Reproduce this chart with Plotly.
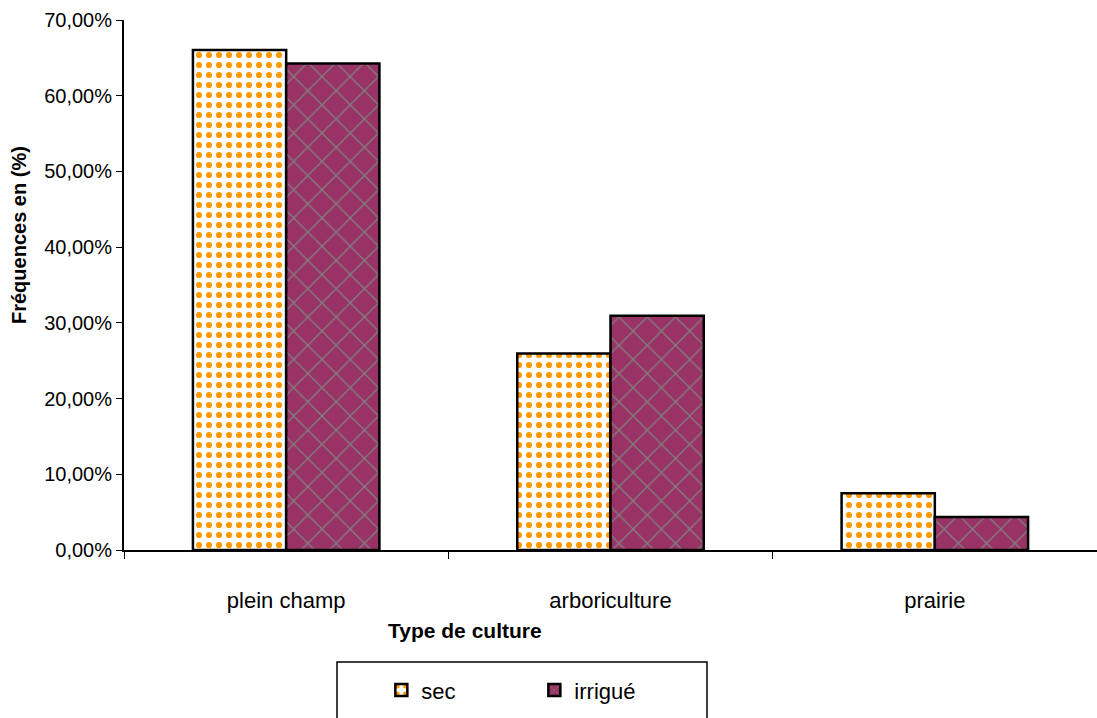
import plotly.graph_objects as go

categories = ["plein champ", "arboriculture", "prairie"]
sec = [0.6605, 0.2595, 0.0750]
irrigue = [0.6425, 0.3095, 0.0435]
y_ticks = [0.0, 0.1, 0.2, 0.3, 0.4, 0.5, 0.6, 0.7]

FONT = "Liberation Sans, Arial, sans-serif"

fig = go.Figure()
fig.add_trace(go.Bar(
    x=categories, y=sec, name="sec",
    marker=dict(
        color="white",
        line=dict(color="black", width=2.5),
        pattern=dict(shape=".", fgcolor="#FF9900", bgcolor="white",
                     size=10, solidity=0.3, fillmode="replace"),
    ),
))
fig.add_trace(go.Bar(
    x=categories, y=irrigue, name="irrigué",
    marker=dict(
        color="#993366",
        line=dict(color="black", width=2.5),
        pattern=dict(shape="x", fgcolor="#808080", bgcolor="#993366",
                     size=20, solidity=0.12, fillmode="replace"),
    ),
))

fig.update_layout(
    width=1097, height=718,
    margin=dict(l=124, r=0, t=20, b=168),
    paper_bgcolor="white", plot_bgcolor="white",
    barmode="group", bargap=0.425, bargroupgap=0,
    separators=", ",
    font=dict(family=FONT, size=20, color="black"),
    showlegend=True,
    legend=dict(
        orientation="h", x=0.2645, xanchor="left", y=-0.225, yanchor="top",
        borderwidth=0, bgcolor="rgba(0,0,0,0)",
        font=dict(size=22, family=FONT),
        entrywidth=108, itemwidth=30,
        traceorder="normal",
    ),
    xaxis=dict(
        showline=True, linecolor="black", linewidth=2,
        ticks="outside", tickson="boundaries", ticklen=7, tickcolor="black",
        tickfont=dict(size=22, family=FONT),
        ticklabelstandoff=30,
    ),
    yaxis=dict(
        range=[0, 0.7], tickvals=y_ticks, tickformat=".2%",
        showline=True, linecolor="black", linewidth=2,
        ticks="outside", ticklen=6, tickcolor="black",
        showgrid=False, zeroline=False,
        tickfont=dict(size=20, family=FONT),
    ),
    shapes=[dict(
        type="rect", xref="paper", yref="paper",
        x0=(337 - 124) / 973, x1=(707 - 124) / 973,
        y0=(550 - 730) / 530, y1=(550 - 662) / 530,
        line=dict(color="black", width=1.5), fillcolor="rgba(0,0,0,0)",
    )],
    annotations=[
        dict(
            text="<b>Type de culture</b>", xref="paper", yref="paper",
            x=(465 - 124) / 973, y=(550 - 630) / 530,
            xanchor="center", yanchor="middle", showarrow=False,
            font=dict(size=21, family=FONT),
        ),
        dict(
            text="<b>Fréquences en (%)</b>", xref="paper", yref="paper",
            x=(19 - 124) / 973, y=(550 - 235) / 530, textangle=-90,
            xanchor="center", yanchor="middle", showarrow=False,
            font=dict(size=20, family=FONT),
        ),
    ],
)

fig.write_html("out.html")
